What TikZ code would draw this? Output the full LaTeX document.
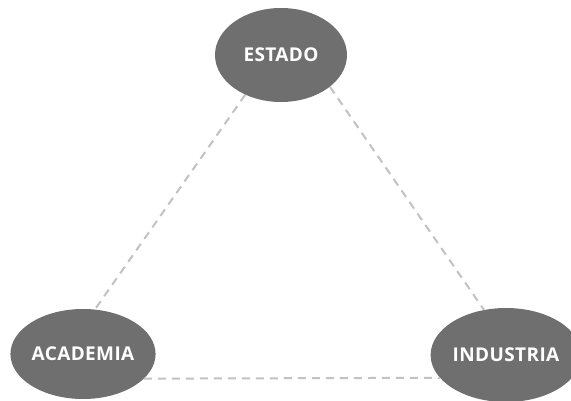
\documentclass[tikz,border=0pt]{standalone}
\usepackage{fontspec}
\setsansfont{Open Sans}
\usepackage{tikz}
\usetikzlibrary{shapes}
\usepackage{xcolor}
\definecolor{blobgray}{HTML}{6F6F6F}
\definecolor{linkgray}{HTML}{C2C2C2}

\begin{document}
\begin{tikzpicture}[x = 1pt, y = -1pt,
  actor/.style = {ellipse, fill = blobgray, inner sep = 0pt, text = white,
    font = \sffamily\bfseries\fontsize{19}{22}\selectfont\addfontfeatures{LetterSpace=2}},
  link/.style = {draw = linkgray, line width = 2pt, dash pattern = on 8pt off 6pt}]
  \useasboundingbox (0, 0) rectangle (571, 400);
  \node[actor, minimum width = 132pt, minimum height = 94pt] (estado) at (281, 55) {ESTADO};
  \node[actor, minimum width = 144pt, minimum height = 90pt] (academia) at (83, 354) {ACADEMIA};
  \node[actor, minimum width = 130pt, minimum height = 94pt] (industria) at (506, 355) {INDUSTRIA};
  \draw[link] (estado.228) -- (academia.75);
  \draw[link] (estado.-33) -- (industria.116);
  \draw[link] (academia.-22) -- (industria.199);
 \end{tikzpicture}
\end{document}
